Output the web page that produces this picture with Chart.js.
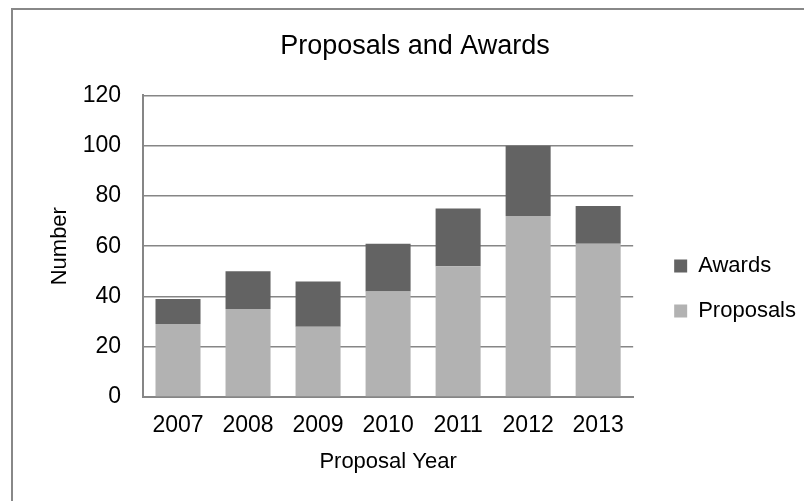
<!DOCTYPE html>
<html>
<head>
<meta charset="utf-8">
<script src="https://cdn.jsdelivr.net/npm/chart.js@4/dist/chart.umd.min.js"></script>
<style>
    html, body { margin: 0; padding: 0; background: #fff; overflow: hidden; }
    body { width: 804px; height: 501px; position: relative; }
    .chart-frame {
        position: absolute; left: 11px; top: 8px;
        border-left: 2px solid #888; border-top: 2px solid #888;
        width: 791px; height: 557px;
    }
    canvas { display: block; }
</style>
</head>
<body>
<div class="chart-frame">
    <canvas id="awardsChart" width="791" height="557"></canvas>
</div>
<script>
// ── DATA ──────────────────────────────────────────────
const years = ['2007', '2008', '2009', '2010', '2011', '2012', '2013'];
const proposals = [29, 35, 28, 42, 52, 72, 61];
const awards = [10, 15, 18, 19, 23, 28, 15];
const yTicks = [0, 20, 40, 60, 80, 100, 120];

const FONT = "'Liberation Sans', Arial, sans-serif";
const AXIS_GRAY = '#868686';

// push the legend a bit away from the plot area
const legendGap = {
    id: 'legendGap',
    afterLayout(chart) {
        const lg = chart.legend;
        if (!lg) return;
        lg.left += 18;
        lg.right += 18;
    }
};

const canvas = document.getElementById('awardsChart');

window.awardsChart = new Chart(canvas, {
    type: 'bar',
    data: {
        labels: years,
        datasets: [
            { label: 'Proposals', data: proposals, backgroundColor: '#b2b2b2', borderWidth: 0 },
            { label: 'Awards', data: awards, backgroundColor: '#636363', borderWidth: 0 }
        ]
    },
    options: {
        responsive: false,
        animation: false,
        devicePixelRatio: 1,
        layout: { padding: { left: 29, right: 16, top: 0, bottom: 0 } },
        datasets: { bar: { barPercentage: 0.643, categoryPercentage: 1 } },
        scales: {
            x: {
                stacked: true,
                grid: { display: false, drawTicks: false },
                border: { display: true, color: AXIS_GRAY, width: 2 },
                ticks: { color: '#000', font: { family: FONT, size: 23 }, padding: 15, maxRotation: 0 },
                title: { display: true, text: 'Proposal Year', color: '#000', font: { family: FONT, size: 22 }, padding: { top: 0, bottom: 92 } },
                afterFit: s => { s.height = 170; }
            },
            y: {
                stacked: true,
                min: 0, max: 120,
                afterBuildTicks: s => { s.ticks = yTicks.map(v => ({ value: v })); },
                grid: { color: AXIS_GRAY, lineWidth: 1.5, drawTicks: false },
                border: { display: true, color: AXIS_GRAY, width: 2 },
                ticks: { color: '#000', font: { family: FONT, size: 23 }, padding: 22 },
                title: { display: true, text: 'Number', color: '#000', font: { family: FONT, size: 22 }, padding: { top: 5, bottom: 0 } },
                afterFit: s => { s.width = 101; }
            }
        },
        plugins: {
            title: {
                display: true,
                text: 'Proposals and Awards',
                color: '#000',
                font: { family: FONT, size: 27, weight: 'normal' },
                padding: { top: 20, bottom: 33 }
            },
            legend: {
                position: 'right',
                reverse: true,
                labels: {
                    color: '#000',
                    font: { family: FONT, size: 22 },
                    boxWidth: 13, boxHeight: 13,
                    padding: 23
                }
            },
            tooltip: { enabled: false }
        }
    },
    plugins: [legendGap]
});
</script>
</body>
</html>
